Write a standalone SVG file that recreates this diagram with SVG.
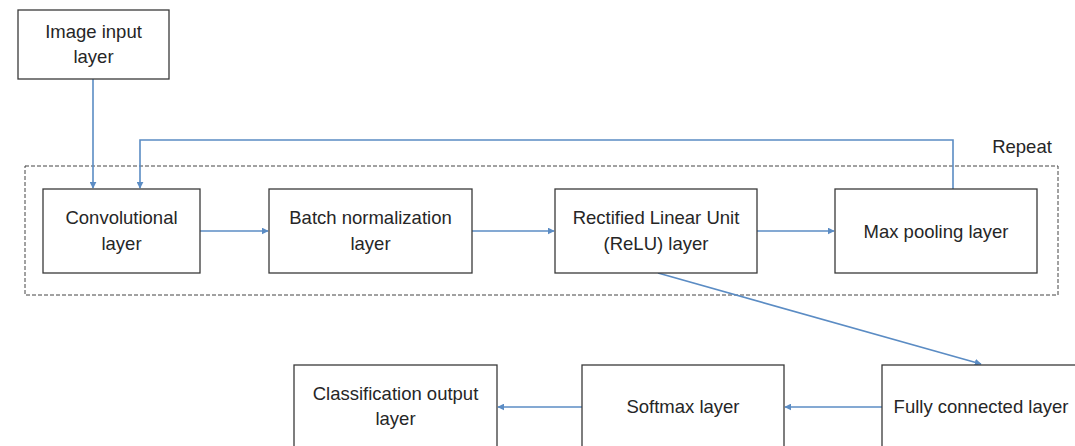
<svg xmlns="http://www.w3.org/2000/svg" width="1075" height="446" viewBox="0 0 1075 446">
<style>
.box{fill:#fff;stroke:#3a3a3a;stroke-width:1.3}
.t{font-family:"Liberation Sans",Arial,sans-serif;font-size:18.5px;fill:#262626;text-anchor:middle}
.c{fill:none;stroke:#5b8cc4;stroke-width:1.6}
</style>
<defs>
<marker id="ah" viewBox="0 0 10 10" refX="9" refY="5" markerWidth="7" markerHeight="7" markerUnits="userSpaceOnUse" orient="auto">
<path d="M0,0 L10,5 L0,10 z" fill="#5b8cc4"/>
</marker>
</defs>
<rect width="1075" height="446" fill="#fff"/>
<g id="repeat">
<rect x="25" y="166" width="1033" height="129" fill="none" stroke="#444" stroke-width="1" stroke-dasharray="4,2"/>
<text class="t" x="1022" y="153">Repeat</text>
</g>
<g id="connectors">
<path class="c" d="M93,79 V188" marker-end="url(#ah)"/>
<path class="c" d="M953,189 V140 H140 V188" marker-end="url(#ah)"/>
<path class="c" d="M200,231 H268" marker-end="url(#ah)"/>
<path class="c" d="M472,231 H554" marker-end="url(#ah)"/>
<path class="c" d="M757,231 H834" marker-end="url(#ah)"/>
<path class="c" d="M658,273 L981,364" marker-end="url(#ah)"/>
<path class="c" d="M882,407 H785" marker-end="url(#ah)"/>
<path class="c" d="M582,407 H498" marker-end="url(#ah)"/>
</g>
<g id="image-input">
<rect class="box" x="18" y="10" width="151" height="69"/>
<text class="t" x="93.5" y="38">Image input</text>
<text class="t" x="93.5" y="63">layer</text>
</g>
<g id="convolutional">
<rect class="box" x="43" y="189" width="157" height="84"/>
<text class="t" x="121.5" y="224">Convolutional</text>
<text class="t" x="121.5" y="250">layer</text>
</g>
<g id="batch-norm">
<rect class="box" x="269" y="189" width="203" height="84"/>
<text class="t" x="370.5" y="224">Batch normalization</text>
<text class="t" x="370.5" y="250">layer</text>
</g>
<g id="relu">
<rect class="box" x="555" y="189" width="202" height="84"/>
<text class="t" x="656" y="224">Rectified Linear Unit</text>
<text class="t" x="656" y="250">(ReLU) layer</text>
</g>
<g id="max-pooling">
<rect class="box" x="835" y="189" width="202" height="84"/>
<text class="t" x="936" y="238">Max pooling layer</text>
</g>
<g id="classification">
<rect class="box" x="294" y="365" width="203" height="90"/>
<text class="t" x="395.5" y="400">Classification output</text>
<text class="t" x="395.5" y="425">layer</text>
</g>
<g id="softmax">
<rect class="box" x="582" y="365" width="202" height="90"/>
<text class="t" x="683" y="413">Softmax layer</text>
</g>
<g id="fully-connected">
<rect class="box" x="882" y="365" width="210" height="90"/>
<text class="t" x="981" y="413">Fully connected layer</text>
</g>
</svg>
